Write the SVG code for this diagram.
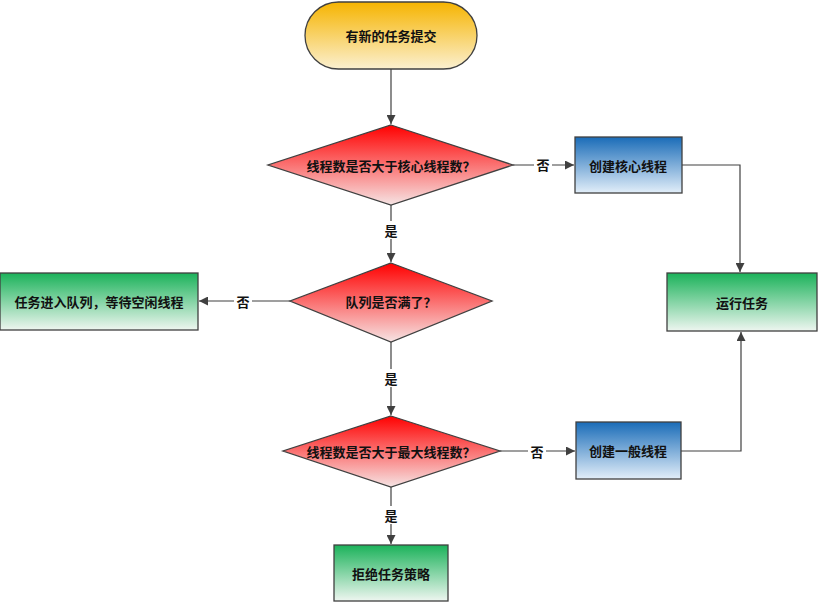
<svg xmlns="http://www.w3.org/2000/svg" width="820" height="604" viewBox="0 0 820 604">
<defs>
<linearGradient id="gGold" x1="0" y1="0" x2="0" y2="1"><stop offset="0" stop-color="#f6b400"/><stop offset="1" stop-color="#fbf0d0"/></linearGradient>
<linearGradient id="gRed" x1="0" y1="0" x2="0" y2="1"><stop offset="0" stop-color="#ff0000"/><stop offset="1" stop-color="#f6e4e4"/></linearGradient>
<linearGradient id="gBlue" x1="0" y1="0" x2="0" y2="1"><stop offset="0" stop-color="#1a6cb8"/><stop offset="1" stop-color="#e2eef9"/></linearGradient>
<linearGradient id="gGreen" x1="0" y1="0" x2="0" y2="1"><stop offset="0" stop-color="#1bb25a"/><stop offset="1" stop-color="#eef6f0"/></linearGradient>
<marker id="arr" viewBox="0 0 10 10" refX="10" refY="5" markerWidth="9" markerHeight="9" markerUnits="userSpaceOnUse" orient="auto"><path d="M0,0 L10,5 L0,10 Z" fill="#404040"/></marker>
</defs>
<style>
.shape{stroke:#404040;stroke-width:1.3}
.t{font-family:"Noto Sans CJK SC","Noto Sans",sans-serif;font-weight:bold;font-size:13px;fill:#111;text-anchor:middle;dominant-baseline:central}
.ln{fill:none;stroke:#404040;stroke-width:1.2}
.lb{fill:#fff}
</style>
<rect width="820" height="604" fill="#fff"/>
<g id="connectors">
<path class="ln" d="M391,69 V124" marker-end="url(#arr)"/>
<path class="ln" d="M513,165 H574" marker-end="url(#arr)"/>
<path class="ln" d="M682,165 H740 V272" marker-end="url(#arr)"/>
<path class="ln" d="M391,205 V262" marker-end="url(#arr)"/>
<path class="ln" d="M290,301 H199" marker-end="url(#arr)"/>
<path class="ln" d="M391,342 V415" marker-end="url(#arr)"/>
<path class="ln" d="M500,451 H575" marker-end="url(#arr)"/>
<path class="ln" d="M681,451 H741 V332" marker-end="url(#arr)"/>
<path class="ln" d="M391,487 V544" marker-end="url(#arr)"/>
<rect class="lb" x="534" y="155" width="18" height="18"/>
<text class="t" x="543" y="164">否</text>
<rect class="lb" x="382" y="221" width="18" height="18"/>
<text class="t" x="391" y="230">是</text>
<rect class="lb" x="234" y="292" width="18" height="18"/>
<text class="t" x="243" y="301">否</text>
<rect class="lb" x="382" y="369" width="18" height="18"/>
<text class="t" x="391" y="378">是</text>
<rect class="lb" x="528" y="442" width="18" height="18"/>
<text class="t" x="537" y="451">否</text>
<rect class="lb" x="382" y="506" width="18" height="18"/>
<text class="t" x="391" y="515">是</text>
</g>
<g id="start">
<rect class="shape" x="305" y="2" width="172" height="67" rx="33.5" fill="url(#gGold)"/>
<text class="t" x="391" y="35">有新的任务提交</text>
</g>
<g id="d1">
<polygon class="shape" points="391,125 513,165 391,205 268,165" fill="url(#gRed)"/>
<text class="t" x="391" y="165">线程数是否大于核心线程数？</text>
</g>
<g id="core">
<rect class="shape" x="575" y="137" width="107" height="56" fill="url(#gBlue)"/>
<text class="t" x="628" y="165">创建核心线程</text>
</g>
<g id="run">
<rect class="shape" x="667" y="273" width="150" height="58" fill="url(#gGreen)"/>
<text class="t" x="742" y="302">运行任务</text>
</g>
<g id="d2">
<polygon class="shape" points="391,263 492,301 391,342 290,301" fill="url(#gRed)"/>
<text class="t" x="391" y="301">队列是否满了？</text>
</g>
<g id="queue">
<rect class="shape" x="0" y="273" width="198" height="57" fill="url(#gGreen)"/>
<text class="t" x="99" y="301">任务进入队列，等待空闲线程</text>
</g>
<g id="d3">
<polygon class="shape" points="391,416 500,451 391,487 283,451" fill="url(#gRed)"/>
<text class="t" x="391" y="451">线程数是否大于最大线程数？</text>
</g>
<g id="normal">
<rect class="shape" x="576" y="422" width="105" height="57" fill="url(#gBlue)"/>
<text class="t" x="628" y="450">创建一般线程</text>
</g>
<g id="reject">
<rect class="shape" x="334" y="545" width="114" height="56" fill="url(#gGreen)"/>
<text class="t" x="391" y="573">拒绝任务策略</text>
</g>
</svg>
